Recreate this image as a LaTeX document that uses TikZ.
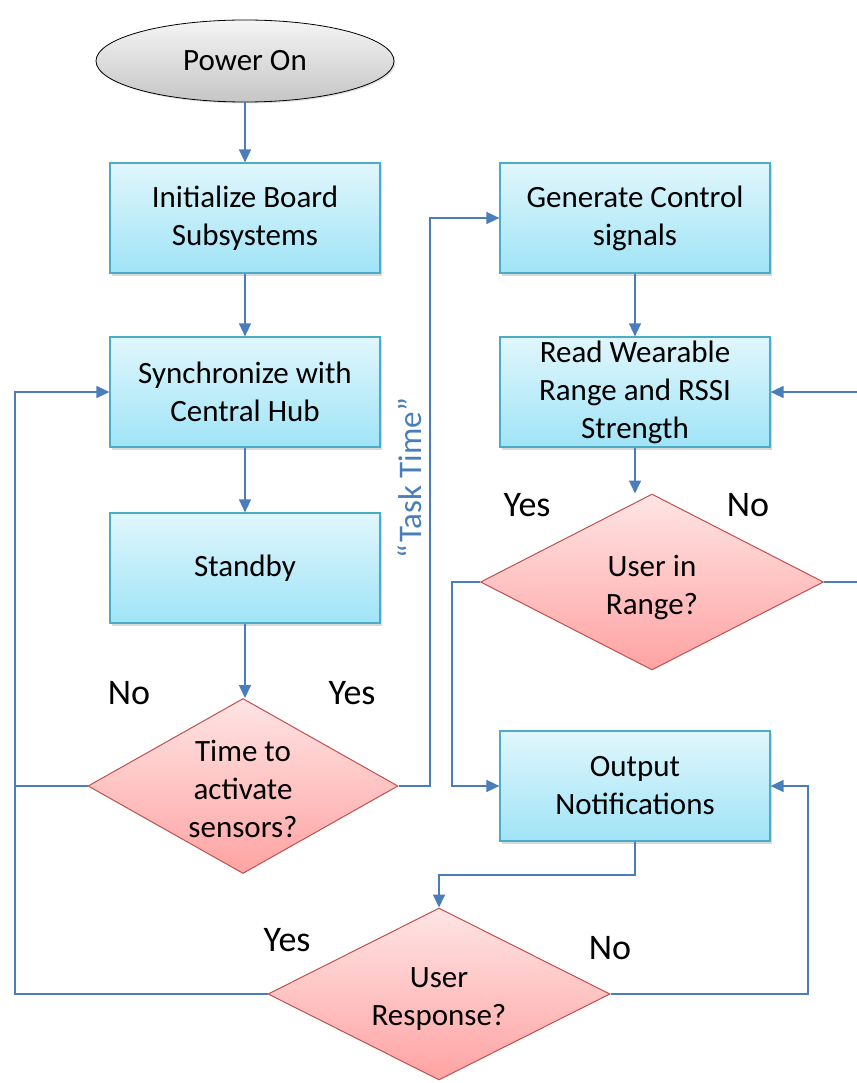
\documentclass[tikz,border=0pt]{standalone}
\usepackage{fontspec}
\setmainfont{Carlito}
\usetikzlibrary{shapes.geometric,arrows.meta,shadows}
\definecolor{flowblue}{HTML}{4A7EBB}
\definecolor{boxedge}{HTML}{4BACC6}
\definecolor{boxtop}{HTML}{E0F6FC}
\definecolor{boxbottom}{HTML}{A0E4F7}
\definecolor{decedge}{HTML}{C0504D}
\definecolor{dectop}{HTML}{FFE4E4}
\definecolor{decbottom}{HTML}{FFA3A3}
\begin{document}
\begin{tikzpicture}[x=1pt,y=-1pt,
  txt/.style={font=\fontsize{31}{38}\selectfont, align=center},
  ans/.style={font=\fontsize{36}{43}\selectfont},
  terminal/.style={ellipse, draw=black, line width=0.8pt, top color=gray!8, bottom color=gray!45,
    minimum width=298pt, minimum height=82pt, inner sep=0pt, txt,
    drop shadow={shadow xshift=1.5pt, shadow yshift=-1.5pt, opacity=0.25}},
  procbox/.style={rectangle, draw=boxedge, line width=1.2pt, top color=boxtop, bottom color=boxbottom,
    minimum width=270pt, minimum height=110pt, inner sep=0pt, txt,
    drop shadow={shadow xshift=2pt, shadow yshift=-2.5pt, opacity=0.3}},
  decision/.style={diamond, draw=decedge, line width=1pt, top color=dectop, bottom color=decbottom,
    inner sep=0pt},
  flow/.style={draw=flowblue, line width=1.6pt, -{Triangle[length=13pt,width=12pt]}},
  link/.style={draw=flowblue, line width=1.6pt}]
\useasboundingbox (0,0) rectangle (856,1083);

% left column
\node[terminal] (power) at (245,61) {Power On};
\node[procbox] (init) at (245,218) {Initialize Board\\Subsystems};
\node[procbox] (sync) at (245,392) {Synchronize with\\Central Hub};
\node[procbox] (standby) at (245,568) {Standby};
\node[decision, minimum width=310pt, minimum height=175pt] (activate) at (243,786) {};
\node[txt] (activatetxt) at (243,789) {Time to\\activate\\sensors?};

% right column
\node[procbox] (generate) at (635,218) {Generate Control\\signals};
\node[procbox] (read) at (635,392) {Read Wearable\\Range and RSSI\\Strength};
\node[decision, minimum width=343pt, minimum height=176pt] (range) at (652,582) {};
\node[txt] (rangetxt) at (652,587) {User in\\Range?};
\node[procbox] (output) at (635,786) {Output\\Notifications};
\node[decision, minimum width=342pt, minimum height=172pt] (response) at (439,994) {};
\node[txt] (responsetxt) at (439,999) {User\\Response?};

% branch labels
\node[ans] (noA) at (129,693) {No};
\node[ans] (yesA) at (352,693) {Yes};
\node[ans] (yesB) at (527,505) {Yes};
\node[ans] (noB) at (748,505) {No};
\node[ans] (yesC) at (287,940) {Yes};
\node[ans] (noC) at (610,948) {No};
\node[txt, font=\fontsize{33}{40}\selectfont, text=flowblue, rotate=90] (tasktime) at (410,478) {“Task Time”};

% routing points
\coordinate (leftrail) at (15,994);
\coordinate (rightedge) at (862,582);
\coordinate (yesjog) at (430,786);
\coordinate (rangejog) at (452,582);
\coordinate (outdrop) at (635,875);
\coordinate (norail) at (808,994);

% straight connectors
\draw[flow] (power) -- (init);
\draw[flow] (init) -- (sync);
\draw[flow] (sync) -- (standby);
\draw[flow] (standby) -- (activate.north -| standby);
\draw[flow] (generate) -- (read);
\draw[flow] (read.south) -- (read.south |- range.north);

% loops back to synchronisation
\draw[link] (activate.west) -- (activate.west -| leftrail);
\draw[flow] (response.west) -- (leftrail) |- (sync.west);

% task time branch
\draw[flow] (activate.east) -- (yesjog) |- (generate.west);

% range decision
\draw[flow] (range.west) -- (rangejog) |- (output.west);
\draw[flow] (range.east) -- (rightedge) |- (read.east);

% notification handling
\draw[flow] (output.south) -- (outdrop) -| (response.north);
\draw[flow] (response.east) -- (norail) |- (output.east);
\end{tikzpicture}
\end{document}
